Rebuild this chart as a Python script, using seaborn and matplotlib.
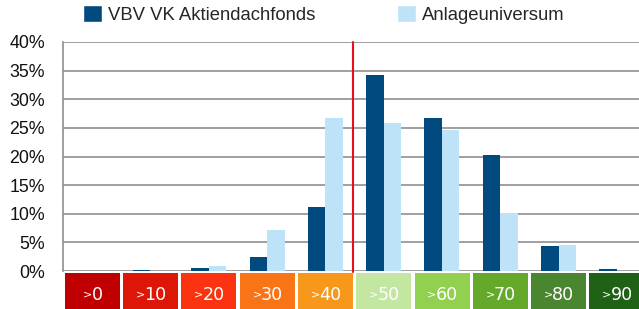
import matplotlib
matplotlib.use("Agg")
import matplotlib.pyplot as plt
import matplotlib.transforms as mtransforms
from matplotlib.patches import Rectangle, Patch
import pandas as pd
import seaborn as sns

categories = ["0", "10", "20", "30", "40", "50", "60", "70", "80", "90"]
fonds = [0.0, 0.1, 0.5, 2.4, 11.1, 34.2, 26.8, 20.2, 4.3, 0.3]
universum = [0.0, 0.0, 0.9, 7.2, 26.8, 25.9, 24.7, 10.2, 4.6, 0.0]
series_names = ["VBV VK Aktiendachfonds", "Anlageuniversum"]
box_colors = ["#C00000", "#DE1608", "#FA3410", "#F87417", "#F7981D",
              "#C3E6A0", "#92D050", "#65A92B", "#4A8530", "#1F6216"]
yticks = [0, 5, 10, 15, 20, 25, 30, 35, 40]

df = pd.DataFrame({
    "cat": categories * 2,
    "val": fonds + universum,
    "series": [series_names[0]] * len(categories) + [series_names[1]] * len(categories),
})

sns.set_style("white")
plt.rcParams["font.family"] = ["Liberation Sans", "DejaVu Sans"]

W, H = 639, 309
PT = 0.72  # points per pixel at dpi 100
fig = plt.figure(figsize=(W / 100, H / 100), dpi=100)
ax = fig.add_axes([63 / W, 38 / H, 583 / W, 229 / H])

sns.barplot(data=df, x="cat", y="val", hue="series", order=categories,
            palette=["#004A7F", "#BEE3F8"], width=0.6, saturation=1,
            linewidth=0, ax=ax, legend=False)

ax.set_xlim(-0.5, len(categories) - 0.5)
ax.set_ylim(0, 40)
ax.set_yticks(yticks)
ax.set_yticklabels([f"{v}%" for v in yticks], fontsize=12.8, color="#111111")
ax.set_xlabel("")
ax.set_ylabel("")
ax.set_xticks([i + 0.5 for i in range(len(categories) - 1)])
ax.set_xticklabels([])
ax.tick_params(axis="x", length=3 * PT, color="#999999", width=1, direction="out")
ax.tick_params(axis="y", length=6 * PT, color="#8F8F8F", width=1.2, pad=12 * PT)
ax.yaxis.grid(True, color="#8F8F8F", linewidth=1.2)
ax.set_axisbelow(True)
for s in ["top", "right", "bottom"]:
    ax.spines[s].set_visible(False)
ax.spines["left"].set_color("#8F8F8F")
ax.spines["left"].set_linewidth(1.2)

# red separator between >40 and >50
ax.axvline(4.47, color="#E8101A", linewidth=1.5, ymin=-0.006, clip_on=False)

# colored category boxes under the axis
trans = mtransforms.blended_transform_factory(ax.transData, ax.transAxes)
box_top = -1.5 / 229
box_h = 40 / 229
for i, (c, col) in enumerate(zip(categories, box_colors)):
    ax.add_patch(Rectangle((i - 0.5 + 0.03, box_top - box_h), 0.945, box_h,
                           transform=trans, color=col, clip_on=False, lw=0))
    total = 6 + 3 + 10 * len(c)
    ax.annotate(">", (i, 0), xycoords=trans,
                xytext=((-total / 2 + 4.5) * PT, -26 * PT), textcoords="offset points",
                ha="center", va="baseline", color="white", fontsize=8,
                family="DejaVu Sans")
    ax.annotate(c, (i, 0), xycoords=trans,
                xytext=((total / 2 + 1.5) * PT, -29 * PT), textcoords="offset points",
                ha="right", va="baseline", color="white", fontsize=12.6,
                family="DejaVu Sans")

handles = [Patch(facecolor="#004A7F"), Patch(facecolor="#BEE3F8")]
fig.legend(handles, series_names, loc="upper left", ncol=2, frameon=False,
           bbox_to_anchor=(83 / W, 1 - 5 / H), fontsize=13.3,
           handlelength=1.03, handleheight=1.03, handletextpad=0.3,
           columnspacing=4.45, borderpad=0, borderaxespad=0)

fig.savefig("out.png", dpi=100)
